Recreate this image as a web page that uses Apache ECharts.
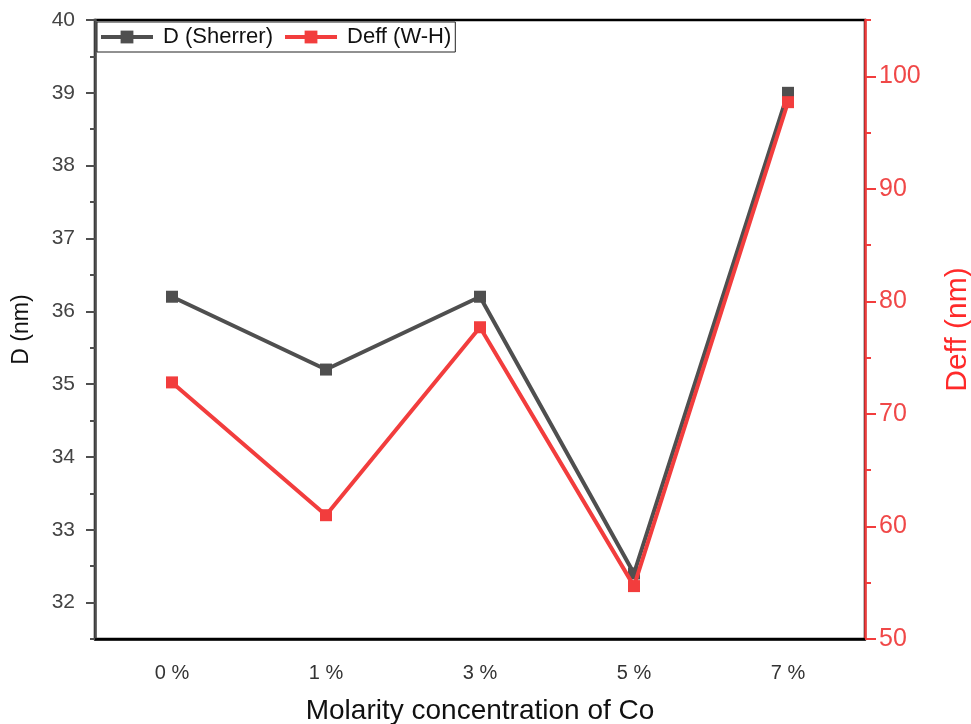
<!DOCTYPE html>
<html>
<head>
<meta charset="utf-8">
<script src="https://cdn.jsdelivr.net/npm/echarts@6/dist/echarts.min.js"></script>
<style>
  html, body { margin: 0; padding: 0; background: #fff; overflow: hidden; }
  #chart { width: 971px; height: 724px; }
</style>
</head>
<body>
<div id="chart"></div>
<script>
// Co molarity levels on the x axis
const categories = ['0 %', '1 %', '3 %', '5 %', '7 %'];
// Crystallite size from the Scherrer equation (nm)
const dSherrer = [36.2, 35.2, 36.2, 32.4, 39.0];
// Effective crystallite size from the Williamson-Hall plot (nm)
const deffWH = [72.8, 61.0, 77.7, 54.7, 97.7];
// Tick values for both vertical axes
const leftTicks = [32, 33, 34, 35, 36, 37, 38, 39, 40];
const leftMinorTicks = [31.5, 32.5, 33.5, 34.5, 35.5, 36.5, 37.5, 38.5, 39.5];
const rightTicks = [50, 60, 70, 80, 90, 100];
const rightMinorTicks = [55, 65, 75, 85, 95, 105];

const FONT = '"Liberation Sans", Arial, sans-serif';
const GRAY = '#4f4f4f';
const RED = '#f23d3d';

const chart = echarts.init(document.getElementById('chart'), null, { renderer: 'canvas' });

chart.setOption({
  animation: false,
  backgroundColor: '#ffffff',
  textStyle: { fontFamily: FONT },
  grid: {
    left: 95, right: 106, top: 20, bottom: 85,
    outerBoundsMode: 'none',
    containLabel: false,
    show: true, borderColor: '#000', borderWidth: 2.5, backgroundColor: 'transparent'
  },
  legend: {
    left: 97, top: 22,
    padding: [4, 4, 4, 2],
    itemGap: 10,
    itemWidth: 52, itemHeight: 16,
    lineStyle: { width: 4 },
    borderColor: '#222', borderWidth: 1, backgroundColor: '#fff',
    textStyle: { fontSize: 22, color: '#111', fontFamily: FONT, padding: [0, 0, 0, 5] },
    data: ['D (Sherrer)', 'Deff (W-H)']
  },
  xAxis: [
    {
      type: 'category',
      data: categories,
      position: 'bottom',
      boundaryGap: true,
      name: 'Molarity concentration of Co',
      nameLocation: 'middle',
      nameGap: 58,
      nameTextStyle: { fontSize: 28, color: '#111', fontFamily: FONT },
      axisLine: { lineStyle: { color: '#000', width: 2.5 } },
      axisTick: { alignWithLabel: true, length: 12, lineStyle: { color: '#222', width: 2 } },
      axisLabel: { fontSize: 20, color: '#333', margin: 24, fontFamily: FONT },
      splitLine: { show: false }
    },
    {
      type: 'category',
      data: categories,
      position: 'bottom',
      boundaryGap: true,
      axisLine: { show: false },
      axisTick: { alignWithLabel: false, interval: 0, length: 6, lineStyle: { color: '#222', width: 2 } },
      axisLabel: { show: false },
      splitLine: { show: false }
    }
  ],
  yAxis: [
    {
      type: 'value',
      position: 'left',
      min: 31.5, max: 40,
      name: 'D (nm)',
      nameLocation: 'middle',
      nameGap: 62,
      nameTextStyle: { fontSize: 23, color: '#111', fontFamily: FONT },
      axisLine: { show: true, lineStyle: { color: GRAY, width: 2.5 } },
      axisTick: { show: true, length: 9, customValues: leftTicks, lineStyle: { color: GRAY, width: 2 } },
      axisLabel: { fontSize: 21, color: '#444', margin: 20, customValues: leftTicks, fontFamily: FONT },
      splitLine: { show: false }
    },
    {
      type: 'value',
      position: 'right',
      min: 50, max: 105,
      name: 'Deff (nm)',
      nameLocation: 'middle',
      nameGap: 78,
      nameRotate: 90,
      nameTextStyle: { fontSize: 30, color: '#ff2a2a', fontFamily: FONT },
      axisLine: { show: true, lineStyle: { color: RED, width: 2.5 } },
      axisTick: { show: true, length: 11, customValues: rightTicks, lineStyle: { color: RED, width: 2 } },
      axisLabel: { fontSize: 25, color: '#f04848', margin: 14, customValues: rightTicks, fontFamily: FONT },
      splitLine: { show: false }
    },
    {
      type: 'value',
      position: 'left',
      min: 31.5, max: 40,
      axisLine: { show: false },
      axisTick: { show: true, length: 5, customValues: leftMinorTicks, lineStyle: { color: GRAY, width: 2 } },
      axisLabel: { show: false },
      splitLine: { show: false }
    },
    {
      type: 'value',
      position: 'right',
      min: 50, max: 105,
      axisLine: { show: false },
      axisTick: { show: true, length: 6, customValues: rightMinorTicks, lineStyle: { color: RED, width: 2 } },
      axisLabel: { show: false },
      splitLine: { show: false }
    }
  ],
  series: [
    {
      name: 'D (Sherrer)',
      type: 'line',
      xAxisIndex: 0,
      yAxisIndex: 0,
      data: dSherrer,
      symbol: 'rect',
      symbolSize: 12,
      itemStyle: { color: GRAY },
      lineStyle: { color: GRAY, width: 4 },
      z: 3
    },
    {
      name: 'Deff (W-H)',
      type: 'line',
      xAxisIndex: 0,
      yAxisIndex: 1,
      data: deffWH,
      symbol: 'rect',
      symbolSize: 12,
      itemStyle: { color: RED },
      lineStyle: { color: RED, width: 4 },
      z: 4
    }
  ]
});
</script>
</body>
</html>
